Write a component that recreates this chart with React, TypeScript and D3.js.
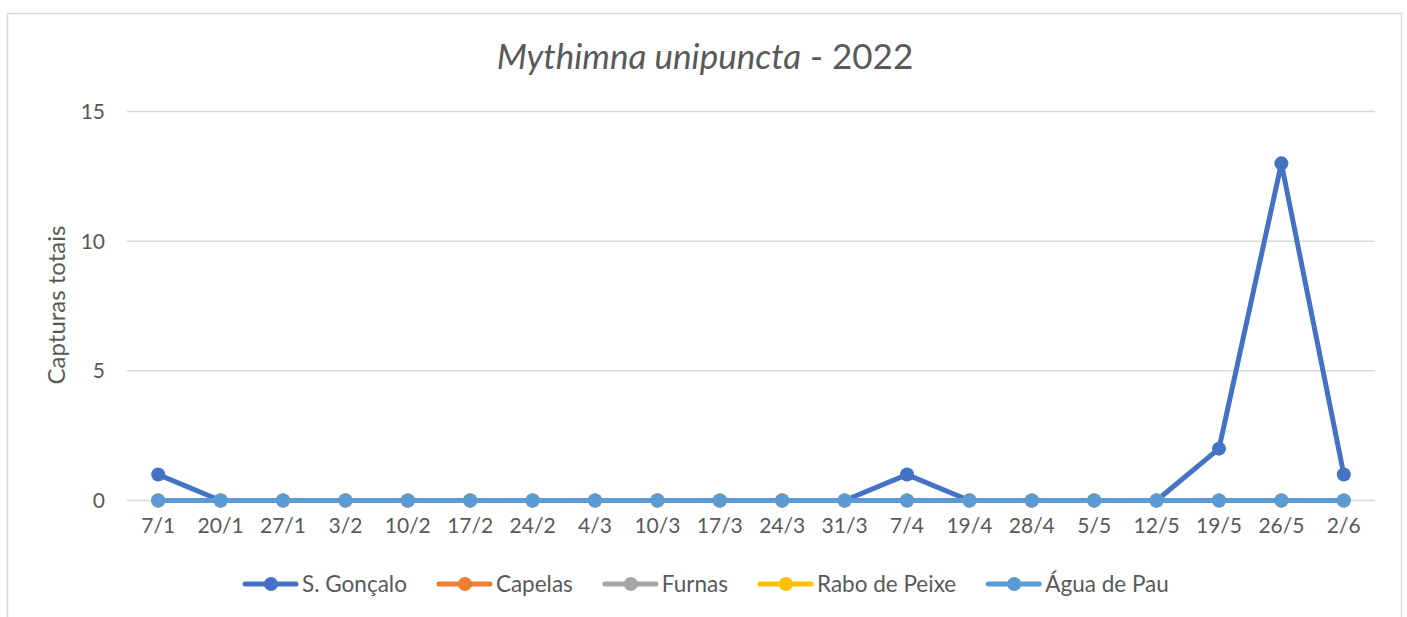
import * as d3 from 'd3';
import { useEffect, useRef } from 'react';

const categories = ['7/1', '20/1', '27/1', '3/2', '10/2', '17/2', '24/2', '4/3', '10/3', '17/3', '24/3', '31/3', '7/4', '19/4', '28/4', '5/5', '12/5', '19/5', '26/5', '2/6'];

const sGoncalo = [1, 0, 0, 0, 0, 0, 0, 0, 0, 0, 0, 0, 1, 0, 0, 0, 0, 2, 13, 1];
const capelas = [0, 0, 0, 0, 0, 0, 0, 0, 0, 0, 0, 0, 0, 0, 0, 0, 0, 0, 0, 0];
const furnas = [0, 0, 0, 0, 0, 0, 0, 0, 0, 0, 0, 0, 0, 0, 0, 0, 0, 0, 0, 0];
const raboDePeixe = [0, 0, 0, 0, 0, 0, 0, 0, 0, 0, 0, 0, 0, 0, 0, 0, 0, 0, 0, 0];
const aguaDePau = [0, 0, 0, 0, 0, 0, 0, 0, 0, 0, 0, 0, 0, 0, 0, 0, 0, 0, 0, 0];

const yTicks = [0, 5, 10, 15];

const series = [
    { name: 'S. Gonçalo', values: sGoncalo, color: '#4472C4' },
    { name: 'Capelas', values: capelas, color: '#ED7D31' },
    { name: 'Furnas', values: furnas, color: '#A5A5A5' },
    { name: 'Rabo de Peixe', values: raboDePeixe, color: '#FFC000' },
    { name: 'Água de Pau', values: aguaDePau, color: '#5B9BD5' },
];

const W = 1407;
const H = 617;
const FONT = 'Lato, "Open Sans", sans-serif';
const TEXT = '#595959';

export default function App() {
    const ref = useRef<SVGSVGElement>(null);

    useEffect(() => {
        document.body.style.margin = '0';
        const svg = d3.select(ref.current);
        svg.selectAll('*').remove();

        // chart frame
        svg.append('rect').attr('width', W).attr('height', H).attr('fill', '#fff');
        svg.append('rect')
            .attr('x', 7.5).attr('y', 13.5)
            .attr('width', 1394).attr('height', 640)
            .attr('fill', 'none').attr('stroke', '#d9d9d9').attr('stroke-width', 1.5);

        const x = d3.scalePoint<string>().domain(categories).range([127, 1375]).padding(0.5);
        const y = d3.scaleLinear().domain([0, 15]).range([500.5, 111.5]);

        // title
        const title = svg.append('text')
            .attr('x', 705).attr('y', 69)
            .attr('text-anchor', 'middle')
            .attr('font-family', FONT).attr('font-size', 35).attr('fill', TEXT);
        title.append('tspan').attr('font-style', 'italic').text('Mythimna unipuncta');
        title.append('tspan').text(' - 2022');

        // gridlines + y labels
        const g = svg.append('g');
        yTicks.forEach((t) => {
            g.append('line')
                .attr('x1', 127).attr('x2', 1375)
                .attr('y1', y(t)).attr('y2', y(t))
                .attr('stroke', '#d9d9d9').attr('stroke-width', 1.5);
            g.append('text')
                .attr('x', 105).attr('y', y(t))
                .attr('dy', '0.36em')
                .attr('text-anchor', 'end')
                .attr('font-family', FONT).attr('font-size', 21).attr('fill', TEXT)
                .text(t);
        });

        // x labels
        categories.forEach((c) => {
            g.append('text')
                .attr('x', x(c)!).attr('y', 533)
                .attr('text-anchor', 'middle')
                .attr('font-family', FONT).attr('font-size', 21).attr('fill', TEXT)
                .text(c);
        });

        // y axis title
        svg.append('text')
            .attr('transform', 'translate(65,305) rotate(-90)')
            .attr('text-anchor', 'middle')
            .attr('font-family', FONT).attr('font-size', 24).attr('fill', TEXT)
            .text('Capturas totais');

        // lines
        const line = d3.line<number>()
            .x((_, i) => x(categories[i])!)
            .y((d) => y(d));

        series.forEach((s) => {
            const sg = svg.append('g');
            sg.append('path')
                .attr('d', line(s.values) ?? '')
                .attr('fill', 'none')
                .attr('stroke', s.color)
                .attr('stroke-width', 5)
                .attr('stroke-linejoin', 'round')
                .attr('stroke-linecap', 'round');
            sg.selectAll('circle')
                .data(s.values)
                .join('circle')
                .attr('cx', (_, i) => x(categories[i])!)
                .attr('cy', (d) => y(d))
                .attr('r', 7)
                .attr('fill', s.color);
        });

        // legend
        const legend = svg.append('g');
        let lx = 245;
        const ly = 584;
        series.forEach((s) => {
            const item = legend.append('g');
            item.append('line')
                .attr('x1', lx).attr('x2', lx + 51)
                .attr('y1', ly).attr('y2', ly)
                .attr('stroke', s.color).attr('stroke-width', 5).attr('stroke-linecap', 'round');
            item.append('circle').attr('cx', lx + 26).attr('cy', ly).attr('r', 7).attr('fill', s.color);
            const t = item.append('text')
                .attr('x', lx + 57).attr('y', ly)
                .attr('dy', '0.36em')
                .attr('font-family', FONT).attr('font-size', 22.5).attr('fill', TEXT)
                .text(s.name);
            const tw = (t.node() as SVGTextElement).getComputedTextLength();
            lx += 57 + tw + 32;
        });
    }, []);

    return <svg ref={ref} width={W} height={H} style={{ display: 'block' }} />;
}
